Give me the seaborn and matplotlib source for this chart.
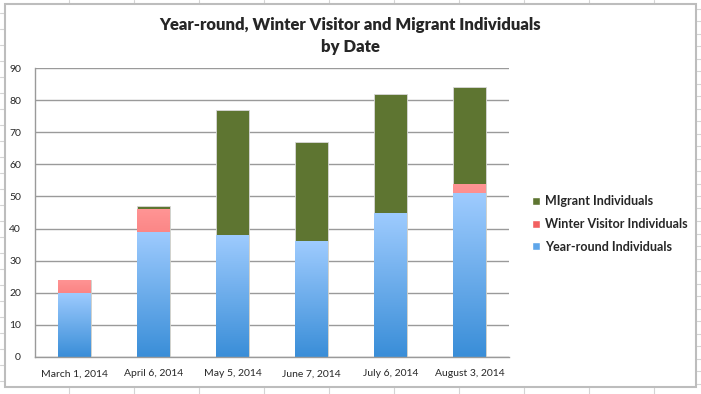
import numpy as np
import pandas as pd
import matplotlib
matplotlib.use("Agg")
import matplotlib.pyplot as plt
import seaborn as sns
from matplotlib.patches import Patch, Rectangle
from matplotlib.lines import Line2D

# data
dates = ["March 1, 2014", "April 6, 2014", "May 5, 2014",
         "June 7, 2014", "July 6, 2014", "August 3, 2014"]
year_round = [20, 39, 38, 36, 45, 51]
winter_visitor = [4, 7, 0, 0, 0, 3]
migrant = [0, 1, 39, 31, 37, 30]

df = pd.DataFrame({"date": dates, "year_round": year_round,
                   "winter": winter_visitor, "migrant": migrant})
df["yr_w"] = df["year_round"] + df["winter"]
df["total"] = df["yr_w"] + df["migrant"]

sns.set_style("white")
plt.rcParams["font.family"] = ["Lato", "DejaVu Sans"]

fig = plt.figure(figsize=(7.01, 3.94), dpi=100)
W, H = 701, 394

# spreadsheet grid behind the chart
for x in range(69, W, 65):
    fig.add_artist(Line2D([x / W, x / W], [0, 1], color="#d4d4d4", lw=0.8, zorder=0))
for y in np.arange(13, H, 16):
    fig.add_artist(Line2D([0, 5 / W], [1 - y / H, 1 - y / H], color="#d4d4d4", lw=0.8, zorder=0))
for y in np.arange(8.5, H, 12.5):
    fig.add_artist(Line2D([696 / W, 1], [1 - y / H, 1 - y / H], color="#d4d4d4", lw=0.8, zorder=0))
fig.add_artist(Rectangle((5 / W, 1 - 387 / H), 691 / W, 383 / H, transform=fig.transFigure,
                         facecolor="white", edgecolor="#bdbdbd", lw=1.5, zorder=1))

ax = fig.add_axes([35 / W, 1 - 357 / H, 474 / W, 289 / H])
ax.set_zorder(2)
ax.patch.set_alpha(0)

bw = 0.41
sns.barplot(data=df, x="date", y="total", color="#5e7531", width=bw, ax=ax,
            saturation=1, edgecolor="#d8d8d8", linewidth=0.6)
n_green = len(ax.patches)
sns.barplot(data=df, x="date", y="yr_w", color="#f25a5a", width=bw, ax=ax,
            saturation=1, linewidth=0)
n_red = len(ax.patches)
sns.barplot(data=df, x="date", y="year_round", color="#5fa6ea", width=bw, ax=ax,
            saturation=1, linewidth=0)

# gradient fills like the spreadsheet chart
def grad(patch, top, bottom):
    x0, y0 = patch.get_x(), patch.get_y()
    w, h = patch.get_width(), patch.get_height()
    if h <= 0:
        return
    c1 = np.array(matplotlib.colors.to_rgb(top))
    c2 = np.array(matplotlib.colors.to_rgb(bottom))
    t = np.linspace(0, 1, 64)[:, None]
    img = (c1 * (1 - t) + c2 * t)[:, None, :]
    im = ax.imshow(img, extent=[x0, x0 + w, y0, y0 + h], origin="upper",
                   aspect="auto", zorder=patch.get_zorder() + 0.1)
    im.set_clip_path(patch)

patches = list(ax.patches)
for p in patches[n_green:n_red]:
    grad(p, "#ff9494", "#e93a3a")
for p in patches[n_red:]:
    grad(p, "#9ecbfe", "#3a8ed8")

ax.set_xlim(-0.5, 5.5)
ax.set_ylim(0, 90)
ax.set_yticks(range(0, 91, 10))
ax.yaxis.grid(True, color="#9a9a9a", lw=1)
ax.set_axisbelow(True)
ax.set_xlabel("")
ax.set_ylabel("")
for s in ["top", "right"]:
    ax.spines[s].set_visible(False)
for s in ["left", "bottom"]:
    ax.spines[s].set_color("#9a9a9a")
    ax.spines[s].set_linewidth(1)
ax.set_xticks(np.arange(-0.5, 6, 1), minor=True)
ax.tick_params(axis="x", which="major", length=0, labelsize=7.5, pad=9)
ax.tick_params(axis="x", which="minor", length=4, color="#9a9a9a", direction="out")
ax.tick_params(axis="y", length=4, color="#9a9a9a", direction="out", labelsize=7.5, pad=6)

fig.text(0.5, 1 - 25 / H, "Year-round, Winter Visitor and Migrant Individuals",
         ha="center", va="center", fontsize=12, fontweight="heavy")
fig.text(0.5, 1 - 47 / H, "by Date", ha="center", va="center",
         fontsize=12, fontweight="heavy")

handles = [Patch(facecolor="#5e7531"), Patch(facecolor="#f26060"), Patch(facecolor="#5fa6ea")]
labels = ["MIgrant Individuals", "Winter Visitor Individuals", "Year-round Individuals"]
fig.legend(handles, labels, loc="center left", bbox_to_anchor=(521 / W, 1 - 224 / H),
           frameon=False, handlelength=0.6, handleheight=0.6, handletextpad=0.4,
           labelspacing=0.85, prop={"size": 9, "weight": "bold"})

fig.savefig("out.png", dpi=100)
